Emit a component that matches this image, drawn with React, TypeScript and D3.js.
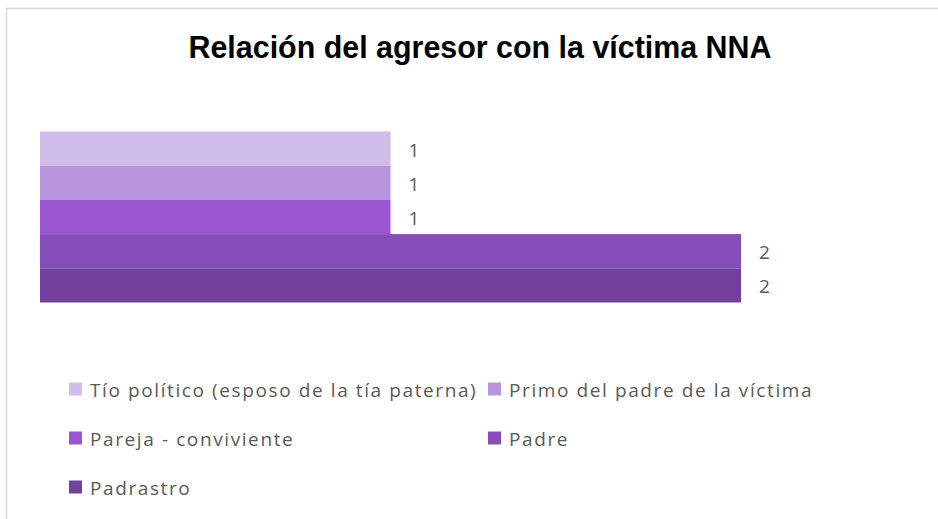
import * as d3 from "d3";
import { useRef, useEffect } from "react";

const title = "Relación del agresor con la víctima NNA";
const categories = [
  "Tío político (esposo de la tía paterna)",
  "Primo del padre de la víctima",
  "Pareja - conviviente",
  "Padre",
  "Padrastro",
];
const values = [1, 1, 1, 2, 2];
const palette = ["#d1bde9", "#b995dd", "#9a55d1", "#874eb9", "#72409d"];

function App() {
  const svgRef = useRef<SVGSVGElement>(null);

  useEffect(() => {
    const WIDTH = 938;
    const HEIGHT = 519;

    const svg = d3.select(svgRef.current).attr("width", WIDTH).attr("height", HEIGHT);
    svg.selectAll("*").remove();

    // chart frame (only top/left visible in the crop)
    svg.append("path")
      .attr("d", `M6.5,${HEIGHT} V8.5 H${WIDTH}`)
      .attr("fill", "none")
      .attr("stroke", "#d9d9d9")
      .attr("stroke-width", 1.5);

    svg.append("text")
      .attr("x", 480)
      .attr("y", 58)
      .attr("text-anchor", "middle")
      .attr("font-family", "'Liberation Sans', Arial, sans-serif")
      .attr("font-weight", "bold")
      .attr("font-size", 32)
      .attr("textLength", 583)
      .attr("lengthAdjust", "spacingAndGlyphs")
      .attr("fill", "#000")
      .text(title);

    const x = d3.scaleLinear().domain([0, 2]).range([40, 741]);
    const y = d3.scaleBand<number>()
      .domain(d3.range(categories.length))
      .range([131.5, 302.5])
      .padding(0);

    svg.append("g").selectAll("rect")
      .data(values)
      .join("rect")
      .attr("x", x(0))
      .attr("y", (d, i) => y(i)!)
      .attr("width", (d) => x(d) - x(0))
      .attr("height", y.bandwidth())
      .attr("fill", (d, i) => palette[i]);

    svg.append("g").selectAll("text")
      .data(values)
      .join("text")
      .attr("x", (d) => x(d) + 18)
      .attr("y", (d, i) => y(i)! + y.bandwidth() / 2 + 1)
      .attr("dominant-baseline", "central")
      .attr("font-family", "'Open Sans', sans-serif")
      .attr("font-size", 19)
      .attr("fill", "#595959")
      .text((d) => d);

    const legend = svg.append("g").selectAll("g")
      .data(categories)
      .join("g")
      .attr("transform", (d, i) => `translate(${i % 2 === 0 ? 69 : 488},${389 + Math.floor(i / 2) * 49})`);

    legend.append("rect")
      .attr("x", 0)
      .attr("y", -6.5)
      .attr("width", 13)
      .attr("height", 13)
      .attr("fill", (d, i) => palette[i]);

    legend.append("text")
      .attr("x", 21)
      .attr("y", 1)
      .attr("dominant-baseline", "central")
      .attr("font-family", "'Open Sans', sans-serif")
      .attr("font-size", 19)
      .attr("letter-spacing", 1.6)
      .attr("fill", "#595959")
      .text((d) => d);
  }, []);

  return (
    <div style={{ position: "absolute", left: 0, top: 0 }}>
      <svg ref={svgRef} style={{ display: "block" }} />
    </div>
  );
}

export default App;
